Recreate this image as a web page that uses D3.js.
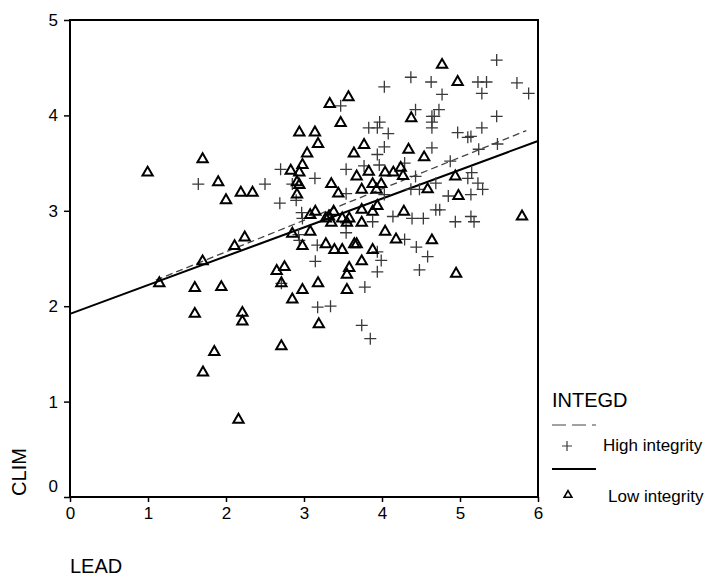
<!DOCTYPE html>
<html>
<head>
<meta charset="utf-8">
<script src="https://cdn.jsdelivr.net/npm/d3@7"></script>
<style>
  body { margin: 0; background: #fff; }
  svg { display: block; font-family: 'Liberation Sans', Arial, sans-serif; }
</style>
</head>
<body>
<div id="chart"></div>
<script>
// INTEGD groups
const groups = ['High integrity', 'Low integrity'];

// LEAD / CLIM for the high integrity cases
const highLead = [1.645, 2.50, 2.70, 2.85, 2.69, 4.37, 4.63, 5.23, 5.34, 5.73, 5.47, 5.28, 5.88, 4.77, 4.03,
  3.47, 4.43, 4.73, 4.64, 4.67, 4.64, 4.64, 5.47, 3.83, 3.94, 3.97, 4.08, 4.97, 5.10, 5.14, 5.28, 5.48,
  5.24, 4.03, 3.94, 4.64, 4.875, 3.14, 3.54, 3.77, 3.965, 4.29, 4.43, 5.10, 5.15, 5.23, 5.29, 4.69, 4.85,
  5.14, 4.37, 4.48, 3.54, 4.03, 2.90, 2.97, 2.98, 2.93, 2.94, 3.54, 3.54, 3.88, 4.14, 4.385, 4.53,
  4.69, 4.74, 4.94, 5.14, 5.18, 4.29, 4.44, 3.17, 3.94, 3.99, 4.585, 4.48, 3.94, 3.145, 2.71, 3.78, 3.175,
  3.34, 3.74, 3.85];
const highClim = [3.28, 3.28, 3.435, 3.28, 3.08, 4.40, 4.35, 4.35, 4.35, 4.34, 4.58, 4.23, 4.23, 4.22, 4.30,
  4.10, 4.06, 4.06, 3.99, 3.99, 3.93, 3.87, 3.99, 3.87, 3.87, 3.93, 3.81, 3.82, 3.77, 3.78, 3.87, 3.70,
  3.645, 3.67, 3.59, 3.66, 3.52, 3.34, 3.435, 3.47, 3.48, 3.50, 3.36, 3.34, 3.40, 3.29, 3.225, 3.29, 3.155,
  3.17, 3.225, 3.225, 3.18, 3.17, 3.11, 2.98, 2.92, 2.75, 2.69, 2.875, 2.77, 2.885, 2.94, 2.92, 2.92,
  3.01, 3.01, 2.885, 2.94, 2.885, 2.70, 2.62, 2.64, 2.57, 2.48, 2.52, 2.38, 2.36, 2.47, 2.24, 2.20, 1.99,
  2.00, 1.80, 1.66];

// LEAD / CLIM for the low integrity cases
const lowLead = [0.995, 1.70, 1.90, 2.19, 2.34, 2.0, 2.83, 1.145, 1.70, 2.11, 2.24, 1.60, 1.94, 1.60, 2.21,
  2.21, 2.65, 2.75, 2.71, 2.85, 2.71, 1.85, 1.705, 2.16, 4.77, 4.97, 3.33, 3.57, 3.47, 4.375, 2.94, 3.14,
  3.18, 3.77, 3.04, 3.64, 4.34, 4.54, 2.98, 2.94, 3.675, 3.83, 4.04, 4.145, 4.24, 4.27, 4.94, 4.585, 4.98,
  3.35, 2.91, 2.94, 2.91, 3.44, 3.74, 3.88, 3.99, 3.93, 3.08, 3.145, 2.85, 3.08, 2.98, 3.28, 3.32, 3.35,
  3.49, 3.58, 3.55, 3.74, 3.74, 3.88, 3.94, 4.28, 5.795, 4.04, 4.18, 4.64, 3.28, 3.39, 3.49, 3.645, 3.675,
  3.88, 4.95, 3.74, 3.58, 3.55, 2.98, 3.18, 3.55, 3.19, 3.38];
const lowClim = [3.40, 3.54, 3.30, 3.19, 3.19, 3.11, 3.42, 2.24, 2.47, 2.63, 2.72, 2.19, 2.20, 1.92, 1.93,
  1.84, 2.37, 2.41, 2.24, 2.07, 1.58, 1.52, 1.305, 0.81, 4.53, 4.35, 4.12, 4.19, 3.92, 3.97, 3.82, 3.82,
  3.70, 3.69, 3.60, 3.60, 3.64, 3.56, 3.48, 3.40, 3.36, 3.41, 3.40, 3.40, 3.45, 3.365, 3.36, 3.225, 3.155,
  3.28, 3.30, 3.27, 3.17, 3.18, 3.22, 3.28, 3.28, 3.22, 2.955, 2.99, 2.76, 2.78, 2.63, 2.92, 2.94, 2.875,
  2.92, 2.92, 2.875, 3.01, 2.875, 2.99, 3.05, 2.99, 2.94, 2.78, 2.70, 2.69, 2.65, 2.59, 2.59, 2.65, 2.65,
  2.59, 2.34, 2.47, 2.40, 2.33, 2.17, 2.24, 2.17, 1.81, 2.99];

// fit lines: intercept, slope, LEAD range
const highFit = [1.91, 0.33, 1.1, 5.85];
const lowFit = [1.92, 0.302, 0, 6];

const xTicks = [0, 1, 2, 3, 4, 5, 6];
const yTicks = [0, 1, 2, 3, 4, 5];

const width = 706;
const height = 578;
const plot = { left: 70, right: 538, top: 20, bottom: 497 };

const svg = d3.select('#chart')
  .append('svg')
  .attr('width', width)
  .attr('height', height);

const x = d3.scaleLinear().domain([0, 6]).range([plot.left, plot.right]);
const y = d3.scaleLinear().domain([0, 5]).range([plot.bottom, plot.top]);

// frame
svg.append('rect')
  .attr('x', plot.left)
  .attr('y', plot.top)
  .attr('width', plot.right - plot.left)
  .attr('height', plot.bottom - plot.top)
  .attr('fill', 'none')
  .attr('stroke', '#000')
  .attr('stroke-width', 2);

const xAxis = svg.append('g')
  .attr('transform', `translate(0, ${plot.bottom})`)
  .call(d3.axisBottom(x).tickValues(xTicks).tickSize(5).tickPadding(5).tickFormat(d3.format('d')));
const yAxis = svg.append('g')
  .attr('transform', `translate(${plot.left}, 0)`)
  .call(d3.axisLeft(y).tickValues(yTicks).tickSize(6).tickPadding(6).tickFormat(d3.format('d')));

[xAxis, yAxis].forEach((g) => {
  g.select('.domain').remove();
  g.selectAll('line').attr('stroke', '#000').attr('stroke-width', 1.5);
  g.selectAll('text')
    .attr('fill', '#000')
    .style('font-size', '17px')
    .style('font-family', "'Liberation Sans', Arial, sans-serif");
});
// the 0 on the y axis sits a little above its tick
yAxis.selectAll('.tick')
  .filter((d) => d === 0)
  .select('text')
  .attr('dy', '-0.35em');

// fit lines
const fitPath = (f) => d3.line()
  .x((d) => x(d))
  .y((d) => y(f[0] + f[1] * d))([f[2], f[3]]);

svg.append('path')
  .attr('d', fitPath(lowFit))
  .attr('stroke', '#000')
  .attr('stroke-width', 2)
  .attr('fill', 'none');
svg.append('path')
  .attr('d', fitPath(highFit))
  .attr('stroke', '#444')
  .attr('stroke-width', 1.3)
  .attr('stroke-dasharray', '7,4')
  .attr('fill', 'none');

const plusPath = (r) => `M${-r},0H${r}M0,${-r}V${r}`;
const triangle = d3.symbol().type(d3.symbolTriangle).size(46);

svg.append('g')
  .selectAll('path')
  .data(d3.zip(highLead, highClim))
  .enter()
  .append('path')
  .attr('transform', (d) => `translate(${x(d[0])}, ${y(d[1])})`)
  .attr('d', plusPath(6))
  .attr('stroke', '#3a3a3a')
  .attr('stroke-width', 1.3)
  .attr('fill', 'none');

svg.append('g')
  .selectAll('path')
  .data(d3.zip(lowLead, lowClim))
  .enter()
  .append('path')
  .attr('transform', (d) => `translate(${x(d[0])}, ${y(d[1])})`)
  .attr('d', triangle)
  .attr('stroke', '#000')
  .attr('stroke-width', 2)
  .attr('fill', 'none');

// axis titles
svg.append('text')
  .attr('transform', 'translate(26, 472) rotate(-90)')
  .attr('text-anchor', 'middle')
  .style('font-size', '20px')
  .text('CLIM');
svg.append('text')
  .attr('x', 70)
  .attr('y', 573)
  .style('font-size', '20px')
  .text('LEAD');

// legend
const legend = svg.append('g');
legend.append('text')
  .attr('x', 552)
  .attr('y', 407)
  .style('font-size', '20px')
  .text('INTEGD');

legend.append('line')
  .attr('x1', 552).attr('x2', 596)
  .attr('y1', 425).attr('y2', 425)
  .attr('stroke', '#444')
  .attr('stroke-width', 1.2)
  .attr('stroke-dasharray', '14,6');
legend.append('path')
  .attr('transform', 'translate(567, 446)')
  .attr('d', plusPath(5))
  .attr('stroke', '#3a3a3a')
  .attr('stroke-width', 1.2);
legend.append('text')
  .attr('x', 603)
  .attr('y', 451)
  .style('font-size', '17px')
  .text(groups[0]);

legend.append('line')
  .attr('x1', 552).attr('x2', 596)
  .attr('y1', 469).attr('y2', 469)
  .attr('stroke', '#000')
  .attr('stroke-width', 2);
legend.append('path')
  .attr('transform', 'translate(568, 495)')
  .attr('d', d3.symbol().type(d3.symbolTriangle).size(26))
  .attr('stroke', '#000')
  .attr('stroke-width', 1.6)
  .attr('fill', 'none');
legend.append('text')
  .attr('x', 608)
  .attr('y', 502)
  .style('font-size', '17px')
  .text(groups[1]);
</script>
</body>
</html>
